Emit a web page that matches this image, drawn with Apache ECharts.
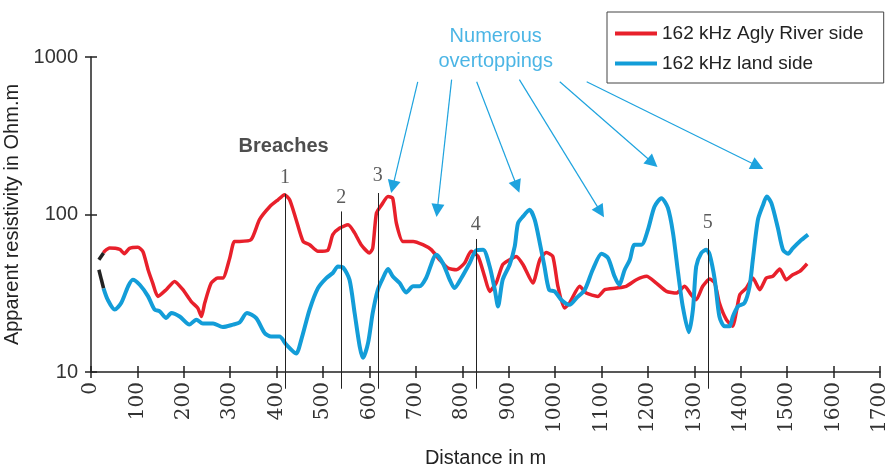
<!DOCTYPE html>
<html><head><meta charset="utf-8">
<script src="https://cdn.jsdelivr.net/npm/echarts@6/dist/echarts.min.js"></script>
<style>html,body{margin:0;padding:0;background:#fff}#c{width:887px;height:468px}</style>
</head><body><div id="c"></div>
<script>
// Series values: [distance m, apparent resistivity Ohm.m]
const riverSide = [[27,57],[29,58.4],[40,61.2],[62,60],[72,56.4],[83,61],[101,62],[112,58],[123,44.6],[133,36.7],[144,30.2],[162,33.3],[180,37.6],[198,33.3],[216,28],[230,25.5],[238,22.5],[245,27.4],[259,36.7],[273,39.5],[284,39.5],[299,53],[309,67.5],[320,67.5],[345,69.2],[363,92.7],[385,112],[403,124],[417,133.6],[428,124],[442,92.7],[457,67.5],[471,64.3],[489,58.4],[510,59.2],[521,74.5],[536,82],[554,86],[568,76.4],[582,64.3],[600,57],[607,61],[615,102],[626,115],[640,130],[650,127],[658,88],[672,67.5],[694,67.5],[715,64.3],[733,59.8],[751,51.6],[769,45.7],[787,44.6],[805,49.2],[819,58.4],[834,54.2],[848,40.5],[859,32.5],[873,36.7],[887,48],[902,51.6],[916,54.2],[931,48],[952,36.7],[967,51.6],[981,57.4],[995,54.2],[1006,35],[1020,25.5],[1031,27.4],[1053,35],[1067,31.7],[1092,30.2],[1107,33.3],[1132,34.1],[1153,35],[1175,38.5],[1197,40.5],[1218,36.7],[1240,32.5],[1261,31.7],[1279,35],[1293,31],[1304,28.8],[1318,35],[1333,38.9],[1344,36.7],[1354,27.4],[1369,21.5],[1383,19.5],[1390,23.7],[1398,31],[1412,34.1],[1426,39.5],[1441,33.3],[1455,39.5],[1469,40.5],[1484,45.1],[1498,38.5],[1512,41.5],[1527,43.5],[1543,48.7]];
const landSide = [[27,34],[36,28.8],[51,24.9],[65,27.4],[80,35],[90,38.5],[105,35.8],[123,30.2],[137,24.9],[148,24.3],[162,22],[173,23.7],[191,22.5],[212,20],[227,21.5],[241,20.3],[263,20.3],[284,19.3],[306,20],[320,20.6],[336,23.7],[356,22],[374,17.7],[388,16.8],[406,16.8],[421,14.9],[442,13.1],[453,16],[471,24.9],[489,34.1],[507,39.5],[521,42.5],[532,46.8],[543,46.2],[557,38.5],[568,23.7],[579,14.5],[586,12.3],[597,15.3],[607,23.7],[618,33.3],[629,39.5],[640,45.1],[650,40.5],[665,36.7],[679,32],[694,35],[708,35],[722,39.5],[744,55.6],[758,49.2],[773,38.5],[783,34.1],[798,39.5],[816,49.2],[830,59.2],[845,59.8],[859,46.8],[870,33.3],[877,26.1],[887,38.5],[902,48],[913,62.7],[920,88],[931,97.3],[945,107],[956,92.7],[967,65.9],[977,46.8],[987,33.3],[999,32.5],[1013,28.8],[1031,26.7],[1046,29.5],[1064,33.3],[1081,44.6],[1100,56.4],[1114,53],[1128,40.5],[1138,35.8],[1150,44.6],[1161,51.6],[1171,64.3],[1186,64.3],[1200,80],[1214,112],[1229,127],[1243,110],[1254,76.3],[1265,42.5],[1275,26.1],[1288,17.9],[1297,25],[1304,46.8],[1315,57],[1326,59.8],[1333,55.6],[1344,38.5],[1354,22.5],[1365,19.5],[1376,19.5],[1383,22.5],[1394,26.1],[1408,27.4],[1419,35],[1426,51.6],[1437,92.7],[1448,115],[1456,130],[1466,118],[1480,82],[1491,59.8],[1502,56.4],[1512,61],[1527,67.5],[1545,74.5]];
const riverStart = [[17,51.6],[27,57]];
const landStart = [[17,44.6],[27,34]];

const seriesNames = ['162 kHz Agly River side', '162 kHz land side'];

// Breach markers
const breachX = [418, 539, 618, 829, 1329];
const breachTop = [135.5, 104.6, 136.9, 69.9, 69.9];
const breachBottom = 7.83;
const breachLabels = ['1', '2', '3', '4', '5'];
const breachLabelY = [171, 127, 176, 86, 88];

// Overtopping arrows (from, to) in data units
const arrowFrom = [[704,696],[777,718],[831,696],[923,718],[1010,696],[1068,696]];
const arrowTo = [[650,150],[746,106],[918,150],[1098,104],[1210,213],[1436,203]];

// Text notes
const breachTitle = {x: 415, y: 269.5, text: 'Breaches'};
const overTitle = {x: 872, y: 1129, text: 'Numerous\novertoppings'};

const RED = '#e8202b', BLUE = '#139dd8', NOTE_BLUE = '#1ea3de';

const chart = echarts.init(document.getElementById('c'), null, {renderer: 'canvas'});

const breachLines = breachX.map((x, i) => ({coords: [[x, breachTop[i]], [x, breachBottom]]}));
const arrows = arrowFrom.map((f, i) => ({coords: [f, arrowTo[i]]}));
const numberPts = breachX.map((x, i) => ({value: [x, breachLabelY[i]], label: {formatter: breachLabels[i]}}));

chart.setOption({
  animation: false,
  textStyle: {fontFamily: 'Liberation Sans'},
  grid: {left: 91, right: 7, top: 57, bottom: 96, containLabel: false, outerBoundsMode: 'none'},
  legend: {
    data: seriesNames,
    orient: 'vertical',
    left: 607, top: 12,
    padding: [12, 20, 10, 8],
    itemGap: 11,
    icon: 'rect',
    itemWidth: 42, itemHeight: 4,
    borderColor: '#444', borderWidth: 1,
    textStyle: {fontSize: 19, color: '#222', fontFamily: 'Liberation Sans', padding: [0, 0, 0, 0]}
  },
  xAxis: [{
    type: 'value', min: 0, max: 1700, interval: 100, position: 'bottom',
    name: 'Distance in m', nameLocation: 'middle', nameGap: 76,
    nameTextStyle: {fontSize: 20, color: '#222', fontFamily: 'Liberation Sans'},
    axisLine: {show: true, lineStyle: {color: '#222', width: 1.5}},
    axisTick: {show: true, length: 6, lineStyle: {color: '#222', width: 1.5}},
    axisLabel: {rotate: 90, margin: 10, fontSize: 20, color: '#333', fontFamily: 'DejaVu Serif',
                formatter: v => String(v)},
    splitLine: {show: false}
  }, {
    type: 'value', min: 0, max: 1700, interval: 100, position: 'bottom',
    axisLine: {show: false},
    axisTick: {show: true, inside: true, length: 6, lineStyle: {color: '#222', width: 1.5}},
    axisLabel: {show: false}, splitLine: {show: false}
  }],
  yAxis: [{
    type: 'log', logBase: 10, min: 10, max: 1000, position: 'left',
    name: 'Apparent resistivity in Ohm.m', nameLocation: 'middle', nameGap: 52, nameRotate: 90,
    nameTextStyle: {fontSize: 20, color: '#222', fontFamily: 'Liberation Sans'},
    axisLine: {show: true, lineStyle: {color: '#222', width: 1.5}},
    axisTick: {show: true, length: 6, lineStyle: {color: '#222', width: 1.5}},
    minorTick: {show: false},
    axisLabel: {margin: 13, fontSize: 20, color: '#333', fontFamily: 'Liberation Sans',
                formatter: v => String(Math.round(v))},
    splitLine: {show: false}
  }, {
    type: 'log', logBase: 10, min: 10, max: 1000, position: 'left',
    axisLine: {show: false},
    axisTick: {show: true, inside: true, length: 6, lineStyle: {color: '#222', width: 1.5}},
    axisLabel: {show: false}, splitLine: {show: false}
  }],
  series: [
    {name: seriesNames[0], type: 'line', data: riverSide, showSymbol: false, smooth: 0.2,
     lineStyle: {color: RED, width: 3.5}, itemStyle: {color: RED}, z: 3},
    {name: seriesNames[1], type: 'line', data: landSide, showSymbol: false, smooth: 0.25,
     lineStyle: {color: BLUE, width: 4}, itemStyle: {color: BLUE}, z: 4},
    {name: 'startRiver', type: 'line', data: riverStart, showSymbol: false,
     lineStyle: {color: '#222', width: 3.5}, z: 5},
    {name: 'startLand', type: 'line', data: landStart, showSymbol: false,
     lineStyle: {color: '#222', width: 3.5}, z: 5},
    {name: 'breaches', type: 'lines', coordinateSystem: 'cartesian2d', clip: false, silent: true,
     symbol: ['none', 'none'], lineStyle: {color: '#222', width: 1, opacity: 1}, data: breachLines, z: 6},
    {name: 'arrows', type: 'lines', coordinateSystem: 'cartesian2d', clip: false, silent: true,
     symbol: ['none', 'triangle'], symbolSize: 13,
     lineStyle: {color: NOTE_BLUE, width: 1.2, opacity: 1}, itemStyle: {color: NOTE_BLUE}, data: arrows, z: 6},
    {name: 'numbers', type: 'scatter', clip: false, silent: true, symbolSize: 1,
     itemStyle: {color: 'rgba(0,0,0,0)'}, data: numberPts,
     label: {show: true, position: 'inside', fontSize: 20, color: '#333', fontFamily: 'Liberation Serif'}, z: 7},
    {name: 'notes', type: 'scatter', clip: false, silent: true, symbolSize: 1,
     itemStyle: {color: 'rgba(0,0,0,0)'},
     data: [
       {value: [breachTitle.x, breachTitle.y], label: {formatter: breachTitle.text, fontWeight: 'bold', color: '#222', fontSize: 20}},
       {value: [overTitle.x, overTitle.y], label: {formatter: overTitle.text, color: NOTE_BLUE, fontSize: 20, lineHeight: 25, align: 'center'}}
     ],
     label: {show: true, position: 'inside', fontFamily: 'Liberation Sans'}, z: 7}
  ]
});
</script></body></html>
